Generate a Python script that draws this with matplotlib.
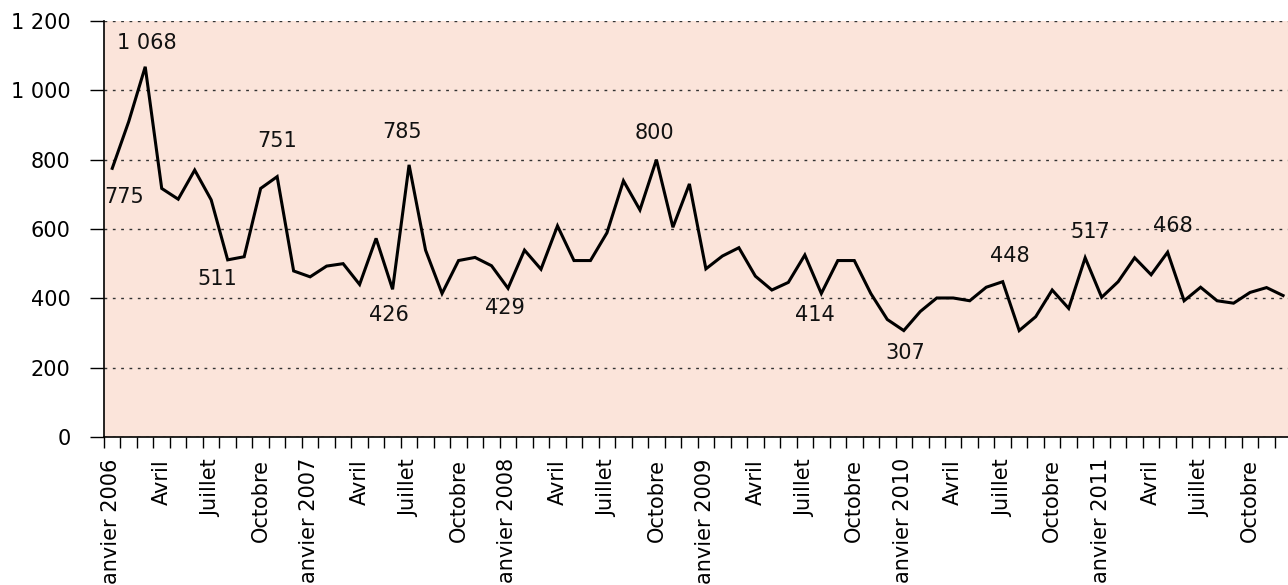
import matplotlib.pyplot as plt
from matplotlib.ticker import FuncFormatter, FixedLocator

# valeurs mensuelles, janvier 2006 -> decembre 2011
values = [775, 910, 1068, 717, 686, 770, 684, 511, 520, 717, 751, 479,
          462, 493, 500, 440, 573, 426, 785, 539, 414, 509, 518, 494,
          429, 539, 484, 609, 509, 509, 589, 739, 655, 800, 605, 730,
          485, 522, 546, 464, 424, 446, 525, 414, 509, 509, 414, 339,
          307, 362, 401, 401, 393, 432, 448, 307, 347, 424, 371, 517,
          403, 448, 517, 468, 533, 393, 432, 393, 386, 417, 431, 408]

years = [2006, 2007, 2008, 2009, 2010, 2011]
quarters = ["Janvier", "Avril", "Juillet", "Octobre"]

# etiquettes de valeurs (texte, position x en mois, position y)
lbl_text = ["775", "1 068", "511", "751", "426", "785", "429",
            "800", "414", "307", "448", "517", "468"]
lbl_x = [0.75, 2.1, 6.35, 10.0, 16.8, 17.6, 23.8, 32.9, 42.6, 48.1, 54.4, 59.3, 64.3]
lbl_y = [693, 1137, 455, 855, 351, 881, 371, 876, 352, 241, 522, 592, 609]

plt.rcParams['font.family'] = ['DejaVu Sans']

fig = plt.figure(figsize=(12.88, 5.85), dpi=100)
ax = fig.add_axes([104 / 1288, 1 - 437 / 585, 1 - 104 / 1288, 416 / 585])
ax.set_facecolor("#fbe4da")

x = list(range(len(values)))
ax.plot(x, values, color="black", lw=2.2, solid_joinstyle="miter", zorder=3)

for t, tx, ty in zip(lbl_text, lbl_x, lbl_y):
    ax.text(tx, ty, t, ha="center", va="center", fontsize=15, color="#111111")

ax.set_ylim(0, 1200)
ax.set_xlim(-0.5, 71.3)
ax.set_yticks(range(0, 1201, 200))
ax.yaxis.set_major_formatter(FuncFormatter(lambda v, p: f"{int(v):,}".replace(",", " ")))
ax.yaxis.grid(True, linestyle=(0, (2, 4)), color="#333333", lw=1)
ax.set_axisbelow(True)

# ticks aux limites des mois, etiquettes au centre
ax.xaxis.set_minor_locator(FixedLocator([i - 0.5 for i in range(len(values) + 1)]))
label_pos = list(range(0, len(values), 3))
label_txt = []
for k in label_pos:
    q = quarters[(k % 12) // 3]
    label_txt.append(f"{q} {years[k // 12]}" if q == "Janvier" else q)
ax.set_xticks(label_pos)
ax.set_xticklabels(label_txt, rotation=90, fontsize=15)
ax.tick_params(axis="x", which="major", length=0, pad=16)
ax.tick_params(axis="x", which="minor", length=8, width=1, direction="out")
ax.tick_params(axis="y", length=10, width=1, direction="out", labelsize=15, pad=14)

for s in ["top", "right"]:
    ax.spines[s].set_visible(False)
for s in ["left", "bottom"]:
    ax.spines[s].set_linewidth(1.2)

fig.savefig("out.png", dpi=100)
